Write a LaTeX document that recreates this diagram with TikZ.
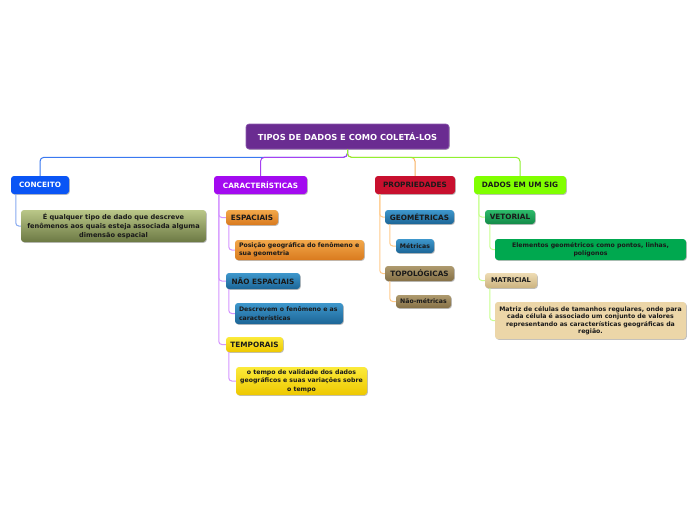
\documentclass[tikz,border=0pt]{standalone}
\usepackage{fontspec}
\setmainfont{DejaVu Sans}
\usetikzlibrary{shadows}
\definecolor{txt}{HTML}{1A1A1A}
\definecolor{rootc}{HTML}{6A2C91}
\definecolor{rootb}{HTML}{8E5CB0}
\definecolor{concc}{HTML}{0A55F5}
\definecolor{carc}{HTML}{A30AF0}
\definecolor{propc}{HTML}{C8102E}
\definecolor{sigc}{HTML}{80FF00}
\definecolor{olivet}{HTML}{BAC788}
\definecolor{oliveb}{HTML}{6C7944}
\definecolor{oranget}{HTML}{F2A84A}
\definecolor{orangeb}{HTML}{D97A1E}
\definecolor{bluet}{HTML}{3E97CC}
\definecolor{blueb}{HTML}{1C6596}
\definecolor{yellt}{HTML}{FBEA3A}
\definecolor{yellb}{HTML}{EEC800}
\definecolor{tant}{HTML}{AE9A6E}
\definecolor{tanb}{HTML}{857046}
\definecolor{greent}{HTML}{2DBA6A}
\definecolor{greenb}{HTML}{128A48}
\definecolor{greenf}{HTML}{00A84F}
\definecolor{beiget}{HTML}{EEDCB4}
\definecolor{beigeb}{HTML}{CBB27E}
\definecolor{beigef}{HTML}{ECD6A8}
\definecolor{lnblue}{HTML}{3A78F0}
\definecolor{lnpurple}{HTML}{A640F0}
\definecolor{lnorange}{HTML}{F8B060}
\definecolor{lngreen}{HTML}{90F030}
\definecolor{sbblue}{HTML}{88AAF0}
\definecolor{sblav}{HTML}{D596FF}
\definecolor{sborange}{HTML}{FFCB8C}
\definecolor{sbgreen}{HTML}{C8FF90}
\tikzset{
  box/.style={rounded corners=3pt, inner sep=0pt, align=center, text=txt,
    font=\bfseries\fontsize{7.3}{8.5}\selectfont,
    drop shadow={shadow xshift=0.8pt, shadow yshift=-0.8pt, opacity=0.25, fill=black}},
  small/.style={font=\bfseries\fontsize{6.2}{8.3}\selectfont},
  conn/.style={line width=1pt, rounded corners=4pt},
  sub/.style={line width=1pt, rounded corners=3pt},
}
\begin{document}
\begin{tikzpicture}[x=1pt,y=-1pt]
\fill[white] (0,0) rectangle (696,520);
\useasboundingbox (0,0) rectangle (696,520);

% root
\node[box, fill=rootc, draw=rootb, line width=0.6pt, text=white, minimum width=203pt, minimum height=25pt,
  font=\bfseries\fontsize{8.3}{10}\selectfont] (root) at (347.5,136.5) {TIPOS DE DADOS E COMO COLETÁ-LOS};

% branches
\node[box, fill=concc, text=white, minimum width=58pt, minimum height=18pt] (conc) at (40,185) {CONCEITO};
\node[box, fill=carc, text=white, minimum width=93pt, minimum height=18pt] (car) at (260.5,185) {CARACTERÍSTICAS};
\node[box, fill=propc, minimum width=80pt, minimum height=18pt] (prop) at (415,185) {PROPRIEDADES};
\node[box, fill=sigc, minimum width=92pt, minimum height=18pt] (sig) at (520,185) {DADOS EM UM SIG};

% root connectors
\draw[conn, lnblue] (root.south) -- ++(0,8) -| (conc.north);
\draw[conn, lnpurple] (root.south) -- ++(0,8) -| (car.north);
\draw[conn, lnorange] (root.south) -- ++(0,8) -| (prop.north);
\draw[conn, lngreen] (root.south) -- ++(0,8) -| (sig.north);

% CONCEITO child
\node[box, top color=olivet, bottom color=oliveb, minimum width=185pt, minimum height=32pt,
  font=\bfseries\fontsize{6.6}{8.8}\selectfont] (concd) at (113.5,226)
  {É qualquer tipo de dado que descreve\\fenômenos aos quais esteja associada alguma\\dimensão espacial};
\draw[sub, sbblue] ([xshift=5pt]conc.south west) |- (concd.west);

% CARACTERISTICAS children
\node[box, top color=oranget, bottom color=orangeb, minimum width=52pt, minimum height=15pt] (esp) at (252,217.5) {ESPACIAIS};
\node[box, small, top color=oranget, bottom color=orangeb, minimum width=129pt, minimum height=20pt, align=left] (espd) at (299.5,250)
  {\parbox{121pt}{Posição geográfica do fenômeno e\\sua geometria}};
\node[box, top color=bluet, bottom color=blueb, minimum width=74pt, minimum height=16pt] (nesp) at (263,281) {NÃO ESPACIAIS};
\node[box, small, top color=bluet, bottom color=blueb, minimum width=108pt, minimum height=21pt, align=left] (nespd) at (289,313.5)
  {\parbox{100pt}{Descrevem o fenômeno e as\\características}};
\node[box, top color=yellt, bottom color=yellb, minimum width=57pt, minimum height=15pt] (temp) at (254.5,344.5) {TEMPORAIS};
\node[box, small, top color=yellt, bottom color=yellb, minimum width=131pt, minimum height=28pt] (tempd) at (301.5,381)
  {o tempo de validade dos dados\\geográficos e suas variações sobre\\o tempo};

\draw[sub, sblav] ([xshift=5pt]car.south west) |- (esp.west);
\draw[sub, sblav] ([xshift=5pt]car.south west) |- (nesp.west);
\draw[sub, sblav] ([xshift=5pt]car.south west) |- (temp.west);
\draw[sub, sblav] ([xshift=3pt]esp.south west) |- (espd.west);
\draw[sub, sblav] ([xshift=3pt]nesp.south west) |- (nespd.west);
\draw[sub, sblav] ([xshift=3pt]temp.south west) |- (tempd.west);

% PROPRIEDADES children
\node[box, top color=bluet, bottom color=blueb, minimum width=69pt, minimum height=14pt] (geo) at (419.5,217) {GEOMÉTRICAS};
\node[box, small, top color=bluet, bottom color=blueb, minimum width=38pt, minimum height=14pt] (met) at (415,246) {Métricas};
\node[box, top color=tant, bottom color=tanb, minimum width=69pt, minimum height=15pt] (top) at (419.5,273.5) {TOPOLÓGICAS};
\node[box, small, top color=tant, bottom color=tanb, minimum width=55pt, minimum height=13pt] (nmet) at (423.5,301.5) {Não-métricas};

\draw[sub, sborange] ([xshift=5pt]prop.south west) |- (geo.west);
\draw[sub, sborange] ([xshift=5pt]prop.south west) |- (top.west);
\draw[sub, sborange] ([xshift=5pt]geo.south west) |- (met.west);
\draw[sub, sborange] ([xshift=5pt]top.south west) |- (nmet.west);

% DADOS EM UM SIG children
\node[box, top color=greent, bottom color=greenb, minimum width=50pt, minimum height=14pt] (vet) at (510,217) {VETORIAL};
\node[box, small, fill=greenf, minimum width=191pt, minimum height=21pt] (vetd) at (590.5,249.5)
  {Elementos geométricos como pontos, linhas,\\polígonos};
\node[box, top color=beiget, bottom color=beigeb, minimum width=52pt, minimum height=15pt, font=\bfseries\fontsize{6.6}{8}\selectfont] (mat) at (511,280.5) {MATRICIAL};
\node[box, fill=beigef, minimum width=191pt, minimum height=37pt, font=\bfseries\fontsize{6.2}{7.5}\selectfont] (matd) at (590.5,320.5)
  {Matriz de células de tamanhos regulares, onde para\\cada célula é associado um conjunto de valores\\representando as características geográficas da\\região.};

\draw[sub, sbgreen] ([xshift=5pt]sig.south west) |- (vet.west);
\draw[sub, sbgreen] ([xshift=5pt]sig.south west) |- (mat.west);
\draw[sub, sbgreen] ([xshift=5pt]vet.south west) |- (vetd.west);
\draw[sub, sbgreen] ([xshift=5pt]mat.south west) |- (matd.west);
\end{tikzpicture}
\end{document}
